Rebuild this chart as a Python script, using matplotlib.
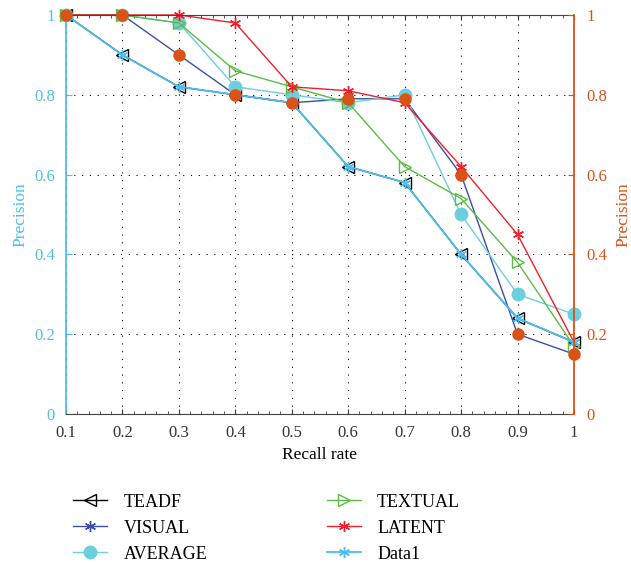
import matplotlib.pyplot as plt
from matplotlib.ticker import MultipleLocator

plt.rcParams['font.family'] = ['Liberation Serif', 'DejaVu Serif']

recall = [0.1, 0.2, 0.3, 0.4, 0.5, 0.6, 0.7, 0.8, 0.9, 1.0]
teadf = [1.0, 0.9, 0.82, 0.8, 0.78, 0.62, 0.58, 0.4, 0.24, 0.18]
visual = [1.0, 1.0, 0.9, 0.8, 0.78, 0.79, 0.79, 0.6, 0.2, 0.15]
average = [1.0, 1.0, 0.98, 0.82, 0.8, 0.78, 0.8, 0.5, 0.3, 0.25]
textual = [1.0, 1.0, 0.98, 0.86, 0.82, 0.78, 0.62, 0.54, 0.38, 0.17]
latent = [1.0, 1.0, 1.0, 0.98, 0.82, 0.81, 0.78, 0.62, 0.45, 0.18]
data1 = [1.0, 0.9, 0.82, 0.8, 0.78, 0.62, 0.58, 0.4, 0.24, 0.18]
right_series = [1.0, 1.0, 0.9, 0.8, 0.78, 0.79, 0.79, 0.6, 0.2, 0.15]
ticklabels_y = ['0', '0.2', '0.4', '0.6', '0.8', '1']
ticklabels_x = ['0.1', '0.2', '0.3', '0.4', '0.5', '0.6', '0.7', '0.8', '0.9', '1']

cyan = '#4DBEEE'
orange = '#D95319'
asterisk = (6, 2, 0)

fig = plt.figure(figsize=(6.31, 5.63), dpi=100)
ax = fig.add_axes([0.1046, 0.2647, 0.805, 0.7087])

l1, = ax.plot(recall, teadf, color='black', marker='<', markersize=8,
              markerfacecolor='none', linewidth=1, label='TEADF', clip_on=False)
l2, = ax.plot(recall, visual, color='#3A4FA8', marker=asterisk, markersize=8,
              linewidth=1, label='VISUAL', clip_on=False)
l3, = ax.plot(recall, average, color='#6CCFDC', marker='o', markersize=9,
              linewidth=1, label='AVERAGE', clip_on=False)
l4, = ax.plot(recall, textual, color='#5DBB46', marker='>', markersize=8,
              markerfacecolor='none', linewidth=1, label='TEXTUAL', clip_on=False)
l5, = ax.plot(recall, latent, color='#F0202A', marker=asterisk, markersize=8,
              linewidth=1, label='LATENT', clip_on=False)
l6, = ax.plot(recall, data1, color=cyan, marker=asterisk, markersize=8,
              linewidth=1.3, label='Data1', clip_on=False)

ax.set_xlim(0.1, 1.0)
ax.set_ylim(0, 1)
ax.set_xticks(recall)
ax.set_xticklabels(ticklabels_x)
ax.xaxis.set_minor_locator(MultipleLocator(0.02))
ax.set_yticks([0, 0.2, 0.4, 0.6, 0.8, 1.0])
ax.set_yticklabels(ticklabels_y)
ax.grid(True, color='black', linestyle=(0, (1, 6)), linewidth=0.8)
ax.tick_params(axis='x', which='both', direction='in', top=True, labelsize=12,
               colors='#333333', pad=8)
ax.tick_params(axis='y', direction='in', labelsize=12, colors=cyan, length=4, pad=8)
ax.set_xlabel('Recall rate', fontsize=12.5, labelpad=4)
ax.set_ylabel('Precision', fontsize=12.5, color=cyan, labelpad=4)
ax.spines['left'].set_color(cyan)
ax.spines['left'].set_linewidth(1.3)
ax.spines['top'].set_color('#444444')
ax.spines['bottom'].set_color('#444444')
ax.spines['right'].set_visible(False)

ax2 = ax.twinx()
ax2.plot(recall, right_series, linestyle='none', marker='o', markersize=8,
         color=orange, clip_on=False)
ax2.set_ylim(0, 1)
ax2.set_yticks([0, 0.2, 0.4, 0.6, 0.8, 1.0])
ax2.set_yticklabels(ticklabels_y)
ax2.tick_params(axis='y', direction='in', labelsize=12, colors=orange, length=4, pad=9)
ax2.set_ylabel('Precision', fontsize=12.5, color=orange, labelpad=6)
ax2.spines['right'].set_color(orange)
ax2.spines['right'].set_linewidth(1.3)
ax2.spines['left'].set_visible(False)
ax2.spines['top'].set_visible(False)
ax2.spines['bottom'].set_visible(False)

fig.legend(handles=[l1, l2, l3, l4, l5, l6], loc='upper left',
           bbox_to_anchor=(0.09, 0.152), ncol=2, frameon=False, fontsize=13,
           handlelength=1.9, columnspacing=6.6, labelspacing=0.5,
           handletextpad=0.9)

fig.savefig('out.png', dpi=100)
